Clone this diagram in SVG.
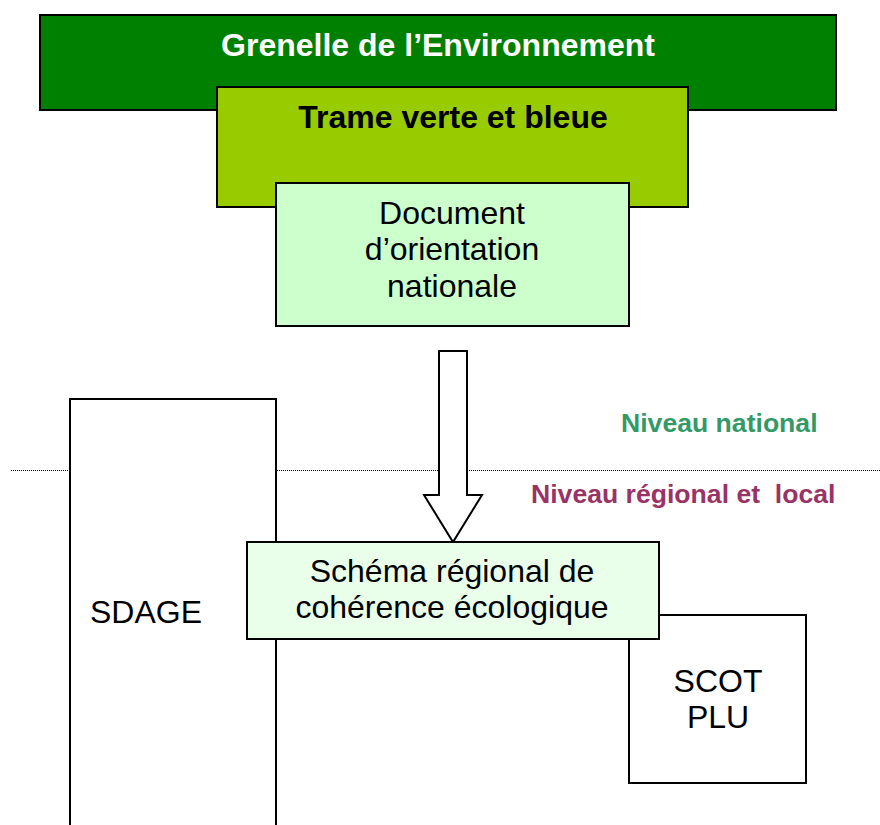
<svg xmlns="http://www.w3.org/2000/svg" width="880" height="825" viewBox="0 0 880 825">
<style>
.box{stroke:#000;stroke-width:2}
.t{font-family:"Liberation Sans",Arial,sans-serif;font-size:32px;text-anchor:middle;fill:#000}
.b{font-weight:bold}
.lvl{font-family:"Liberation Sans",Arial,sans-serif;font-size:26.6px;font-weight:bold}
</style>
<rect width="880" height="825" fill="#fff"/>
<line x1="11" y1="470.5" x2="880" y2="470.5" stroke="#000" stroke-width="1" stroke-dasharray="1,1"/>
<text class="lvl" x="621" y="432" fill="#339966">Niveau national</text>
<text class="lvl" x="531" y="503" fill="#993366" xml:space="preserve">Niveau régional et  local</text>
<g id="grenelle">
<rect class="box" x="40" y="15" width="796" height="95" fill="#008000"/>
<text class="t b" x="438" y="56" style="fill:#fff">Grenelle de l’Environnement</text>
</g>
<g id="trame">
<rect class="box" x="217" y="87" width="471" height="120" fill="#99CC00"/>
<text class="t b" x="453" y="128">Trame verte et bleue</text>
</g>
<g id="document">
<rect class="box" x="276" y="183" width="353" height="143" fill="#CCFFCC"/>
<text class="t" x="452" y="224">Document</text>
<text class="t" x="452" y="260">d’orientation</text>
<text class="t" x="452" y="297">nationale</text>
</g>
<g id="sdage">
<rect class="box" x="70" y="399" width="206" height="440" fill="#fff"/>
<text class="t" x="146" y="623">SDAGE</text>
</g>
<g id="connectors">
<path class="box" d="M439,351 H467 V495 H482 L453,542 L424,495 H439 Z" fill="#fff"/>
</g>
<g id="scot">
<rect class="box" x="629" y="615" width="177" height="168" fill="#fff"/>
<text class="t" x="718" y="692">SCOT</text>
<text class="t" x="718" y="728">PLU</text>
</g>
<g id="schema">
<rect class="box" x="247" y="542" width="412" height="97" fill="#EAFFEA"/>
<text class="t" x="452" y="582">Schéma régional de</text>
<text class="t" x="452" y="618">cohérence écologique</text>
</g>
</svg>
